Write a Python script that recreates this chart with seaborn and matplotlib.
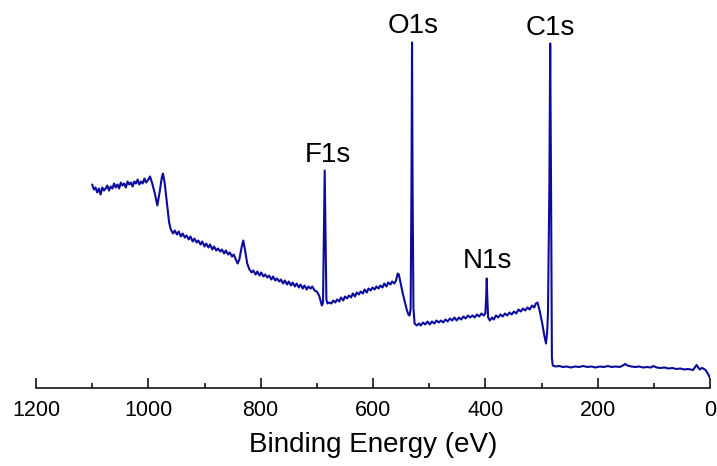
import matplotlib
matplotlib.use("Agg")
import matplotlib.pyplot as plt
import seaborn as sns
from matplotlib.ticker import MultipleLocator

# XPS survey spectrum (intensity in arbitrary units)
binding_energy = [
    1100, 1097, 1094, 1091, 1088, 1085, 1082, 1079, 1076, 1073, 1070, 1067, 1064, 1061,
    1058, 1055, 1052, 1049, 1046, 1043, 1040, 1037, 1034, 1031, 1028, 1025, 1022, 1019,
    1016, 1013, 1010, 1007, 1004, 1001, 997, 993, 988, 984, 980, 976, 974, 971,
    967, 963, 960, 956, 953, 949, 946, 942, 939, 935, 932, 928, 925, 921, 918, 914,
    911, 907, 904, 900, 897, 893, 890, 886, 883, 879, 876, 872, 869, 865, 862, 858,
    855, 851, 848, 845, 841, 838, 834, 831, 828, 824,
    820, 816, 813, 809, 806, 802, 799, 795, 792, 788, 785, 781, 778, 774, 771, 767,
    764, 760, 757, 753, 750, 746, 743, 739, 736, 732, 729, 725, 722, 718, 715, 711,
    708, 704, 700, 696, 693, 691, 689, 687.5, 686, 684.5,
    683, 681, 678, 674, 671, 667, 664, 660, 657, 653, 650, 646, 643, 639, 636, 632,
    629, 625, 622, 618, 615, 611, 608, 604, 601, 597, 594, 590, 587, 583, 580, 576,
    573, 569, 566, 562, 559, 556, 554, 551, 547, 543, 540,
    537, 535, 533, 531.5, 530.5, 529.5, 528, 526, 522, 518, 515, 511, 507, 503, 499,
    495, 491, 487, 483, 479, 475, 471, 467, 463, 459, 455, 451, 447, 443, 439, 435,
    431, 427, 423, 419, 415, 411, 407, 403, 400, 398.5,
    397.5, 396.5, 395, 392, 388, 385, 381, 377, 373, 369, 365, 361, 357, 353, 349,
    345, 341, 337, 333, 329, 325, 321, 317, 313, 310, 307, 303, 299, 295, 292, 290,
    288.5, 286, 284.5, 283, 281.5,
    280, 275, 268, 262, 255, 248, 240, 233, 226, 218, 211, 204, 196, 189, 182, 175,
    168, 161, 155, 151, 147, 140, 133, 126, 119, 112, 105, 101, 95, 88, 81, 74,
    67, 60, 53, 46, 40, 34, 30, 27, 24, 21, 18, 15, 12, 8, 5, 2, 0,
]
intensity = [
    203, 198, 200, 195, 199, 193, 200, 197, 199, 202, 197, 201, 199, 204,
    200, 203, 199, 205, 202, 204, 200, 206, 203, 205, 201, 206, 204, 208,
    203, 206, 204, 209, 205, 207, 211, 204, 193, 182, 195, 210, 214, 205,
    185, 165, 158, 154, 157, 153, 156, 151, 154, 150, 152, 148, 151, 146, 149, 145,
    147, 143, 146, 141, 144, 140, 143, 138, 141, 137, 139, 136, 138, 134, 137, 133,
    135, 131, 133, 129, 124, 128, 140, 147, 138, 124,
    118, 115, 117, 113, 116, 112, 115, 111, 113, 110, 112, 108, 111, 107, 109, 106,
    108, 104, 107, 103, 106, 102, 105, 101, 104, 100, 103, 99, 102, 98, 101, 99,
    101, 97, 96, 92, 86, 82, 85, 150, 217, 150,
    88, 84, 85, 84, 87, 85, 88, 86, 90, 87, 91, 89, 92, 90, 94, 91,
    95, 93, 96, 94, 98, 95, 99, 97, 100, 98, 101, 99, 102, 100, 104, 101,
    105, 103, 106, 104, 107, 114, 113, 105, 94, 85, 78,
    73, 72, 78, 200, 345, 200, 80, 64, 62, 64, 62, 65, 63, 66, 63,
    66, 64, 67, 65, 67, 65, 68, 66, 69, 67, 70, 67, 70, 68, 71, 69,
    72, 70, 72, 70, 73, 71, 74, 72, 74, 90,
    109, 90, 70, 67, 70, 68, 72, 70, 73, 71, 74, 72, 75, 73, 76,
    74, 78, 76, 79, 77, 80, 78, 82, 80, 84, 85, 76, 65, 52, 44, 55,
    74, 200, 344, 200, 30,
    22, 21, 21.5, 20.5, 21, 20, 21, 20.5, 21.5, 20.5, 21, 20, 21, 20.5, 21.5, 20.5,
    21, 20.5, 22, 23.5, 22, 21, 20.5, 21, 20, 20.5, 20, 21.5, 20, 19.5, 20, 19,
    19.5, 18.5, 19, 18, 18.5, 18, 17.5, 20, 22.5, 20, 18, 19.5, 19, 17.5, 15, 12, 9,
]

peak_labels = ["F1s", "O1s", "N1s", "C1s"]
peak_label_x = [679.5, 528, 396.5, 283.5]
peak_label_y = [226, 354.5, 120, 352.5]

sns.set_theme(style="ticks")
plt.rcParams["font.family"] = ["Liberation Sans", "DejaVu Sans"]

fig = plt.figure(figsize=(7.17, 4.66), dpi=100)
ax = fig.add_axes([36 / 717, 78.5 / 466, 674 / 717, 387.5 / 466])

sns.lineplot(x=binding_energy, y=intensity, ax=ax, color="#0C0C9C",
             linewidth=1.5, estimator=None, sort=False)

for lab, lx, ly in zip(peak_labels, peak_label_x, peak_label_y):
    ax.text(lx, ly, lab, ha="center", va="baseline", fontsize=20, color="black")

ax.set_xlim(1200, 0)
ax.set_ylim(0, 387.5)
ax.xaxis.set_major_locator(MultipleLocator(200))
ax.xaxis.set_minor_locator(MultipleLocator(100))
ax.tick_params(axis="x", which="major", direction="in", length=7.2, width=1.1,
               labelsize=15.5, pad=9, colors="black")
ax.tick_params(axis="x", which="minor", direction="in", length=3.6, width=1.1,
               colors="black")
ax.set_yticks([])
ax.set_xlabel("Binding Energy (eV)", fontsize=20, labelpad=8, color="black")
ax.set_ylabel("")
for side in ["left", "right", "top"]:
    ax.spines[side].set_visible(False)
ax.spines["bottom"].set_linewidth(1.1)
ax.spines["bottom"].set_color("black")

fig.savefig("out.png", dpi=100)
